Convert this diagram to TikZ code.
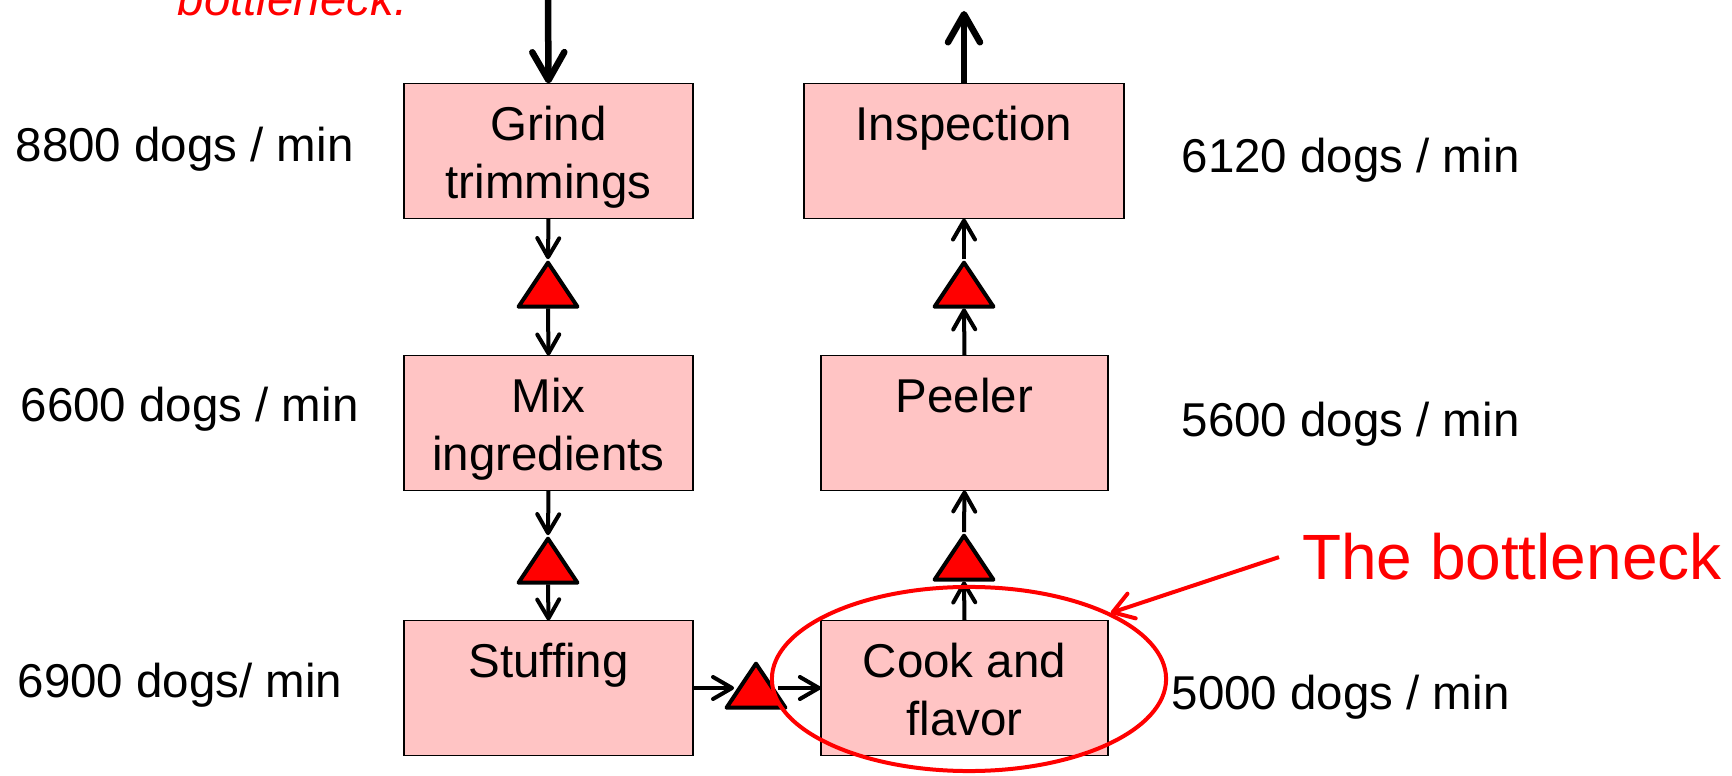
\documentclass[tikz,border=0pt]{standalone}
\usepackage{fontspec}
\setmainfont{Liberation Sans}
\usetikzlibrary{arrows.meta,shapes.geometric}

\definecolor{boxpink}{RGB}{255,196,196}
\tikzset{
  stage/.style={draw, line width=0.5pt, fill=boxpink, inner sep=0pt, outer sep=0pt,
    minimum width=2.89cm, text height=0.567cm, text depth=0.783cm, align=center},
  twoline/.style={text height=1.152cm, text depth=0.198cm},
  buffer/.style={regular polygon, regular polygon sides=3, draw, fill=red,
    line width=0.04cm, line join=round, minimum size=0.68cm, inner sep=0pt,
    yscale=0.863, transform shape},
  flow/.style={line width=0.04cm, -{Straight Barb[length=0.19cm,width=0.22cm,round]}},
  bigflow/.style={line width=0.065cm, -{Straight Barb[length=0.28cm,width=0.32cm,round]}},
  rate/.style={anchor=base west, inner sep=0pt},
}

\begin{document}
\begin{tikzpicture}[x=0.01cm, y=-0.01cm, font=\fontsize{13.5}{16.6}\selectfont]
\useasboundingbox (0,0) rectangle (1732,776);

\node[rate, text=red] (note) at (177,16) {\itshape bottleneck.};

% stations
\node[stage, twoline] (grind) at (548.5,151) {Grind\\trimmings};
\node[stage, twoline] (mix)   at (548.5,423) {Mix\\ingredients};
\node[stage] (stuff) at (548.5,688) {Stuffing};
\node[stage, minimum width=3.20cm] (insp) at (964,151) {Inspection};
\node[stage, minimum width=2.87cm] (peel) at (964.5,423) {Peeler};
\node[stage, twoline, minimum width=2.87cm] (cook) at (964.5,688) {Cook and\\flavor};

% buffers
\node[buffer] (t1) at (548,292) {};
\node[buffer] (t2) at (548,568) {};
\node[buffer] (t3) at (964,565) {};
\node[buffer] (t4) at (964,292) {};
\node[buffer] (t5) at (756,693) {};

\coordinate (src) at (548,0);
\coordinate (out) at (964,11);
\draw[bigflow] (src) -- (grind.north);
\draw[bigflow] (insp.north) -- (out);

\draw[flow] (grind.south) -- (t1.north);
\draw[flow] (t1.south) -- (mix.north);
\draw[flow] (mix.south) -- (t2.north);
\draw[flow] (t2.south) -- (stuff.north);
\draw[flow] (stuff.east) -- (stuff.east -| t5.west);
\draw[flow] (t5.east |- cook.west) -- (cook.west);
\draw[flow] (cook.north) -- (t3.south);
\draw[flow] (t3.north) -- (peel.south);
\draw[flow] (peel.north) -- (t4.south);
\draw[flow] (t4.north) -- (insp.south);

% rates
\node[rate] (r1) at (15,162)   {8800 dogs / min};
\node[rate] (r2) at (20,422)   {6600 dogs / min};
\node[rate] (r3) at (17,698)   {6900 dogs/ min};
\node[rate] (r4) at (1181,173) {6120 dogs / min};
\node[rate] (r5) at (1181,437) {5600 dogs / min};
\node[rate] (r6) at (1171,709) {5000 dogs / min};

% bottleneck
\begin{scope}[red, line width=0.04cm]
\node[draw, ellipse, minimum width=3.94cm, minimum height=1.84cm, inner sep=0pt] (ring) at (969,679) {};
\node[rate, inner xsep=0.21cm] (tag) at (1279,580) {\fontsize{18.2}{22}\selectfont The bottleneck};
\draw[-{Straight Barb[length=0.2cm,width=0.26cm,round]}] (tag.west) -- (ring.25);
\end{scope}

\end{tikzpicture}
\end{document}
